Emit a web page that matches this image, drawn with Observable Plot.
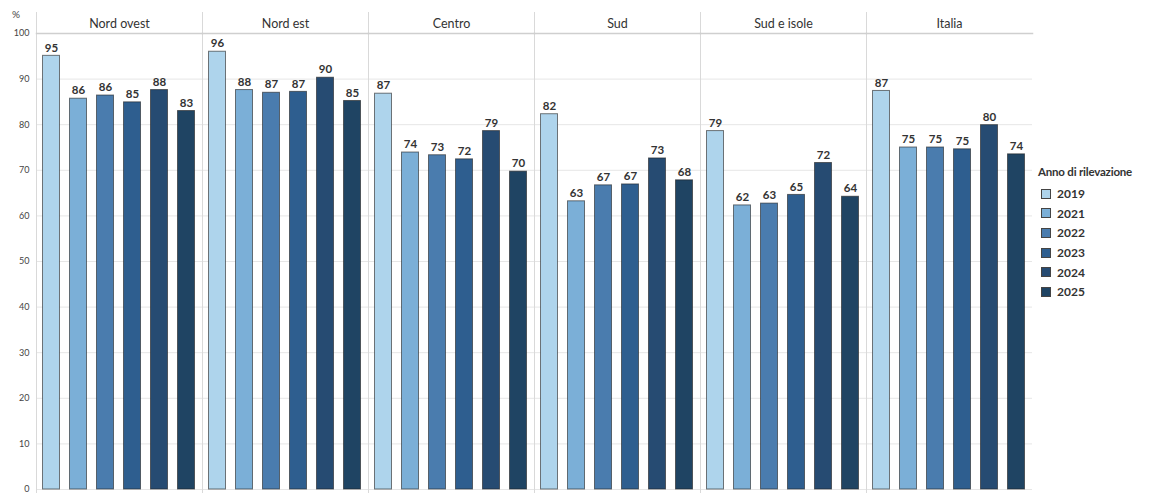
<!DOCTYPE html>
<html>
<head>
<meta charset="utf-8">
<script src="https://cdn.jsdelivr.net/npm/d3@7"></script>
<script src="https://cdn.jsdelivr.net/npm/@observablehq/plot@0.6"></script>
<style>
  body { margin: 0; background: #fff; font-family: Lato, "Open Sans", sans-serif; }
  #wrap { position: relative; width: 1168px; height: 493px; }
  #legend { position: absolute; left: 1038px; top: 165px; font-family: Lato, sans-serif; color: #333; }
  #legend .title { font-weight: bold; font-size: 11.5px; margin-bottom: 6px; letter-spacing: -0.2px; }
  #legend .item { display: flex; align-items: center; height: 19.6px; font-weight: bold; font-size: 12px; }
  #legend .sw { width: 10px; height: 10px; box-sizing: border-box; border: 1px solid #444; margin: 0 6px 0 3px; }
  #pct { position: absolute; left: 12px; top: 8px; font-size: 10px; color: #444; font-family: Lato, sans-serif; }
</style>
</head>
<body>
<div id="wrap"><div id="pct">%</div><div id="legend"></div></div>
<script>
const regions = ["Nord ovest", "Nord est", "Centro", "Sud", "Sud e isole", "Italia"];
const years = ["2019", "2021", "2022", "2023", "2024", "2025"];
const nordOvest = [95.1, 85.7, 86.4, 84.9, 87.6, 83.0];
const nordEst   = [96.0, 87.6, 87.0, 87.2, 90.3, 85.2];
const centro    = [86.8, 73.9, 73.3, 72.4, 78.6, 69.7];
const sud       = [82.3, 63.2, 66.7, 66.9, 72.6, 67.8];
const sudIsole  = [78.6, 62.3, 62.7, 64.6, 71.6, 64.2];
const italia    = [87.4, 75.0, 75.0, 74.6, 79.9, 73.5];
const colors = ["#aed4ec", "#7bafd7", "#4a7cae", "#2e5e8f", "#264b72", "#1f4463"];
const yTicks = [0, 10, 20, 30, 40, 50, 60, 70, 80, 90, 100];

const series = [nordOvest, nordEst, centro, sud, sudIsole, italia];
const data = [];
regions.forEach((r, i) => years.forEach((y, j) => data.push({region: r, year: y, value: series[i][j]})));

const plot = Plot.plot({
  width: 1168,
  height: 493,
  marginLeft: 35,
  marginRight: 135,
  marginTop: 33,
  marginBottom: 4,
  style: {fontFamily: "Lato, sans-serif", color: "#333", background: "#fff"},
  fx: {domain: regions, padding: 0, label: null, axis: null},
  x: {domain: years, paddingInner: 0.32, paddingOuter: 0.13, axis: null},
  y: {domain: [0, 100], label: null, axis: null},
  color: {domain: years, range: colors},
  marks: [
    Plot.gridY(yTicks, {stroke: "#e6e6e6", strokeOpacity: 1}),
    Plot.axisY(yTicks, {tickSize: 0, tickPadding: 7, fontSize: 9, fill: "#444", label: null}),
    Plot.frame({anchor: "left", stroke: "#d9d9d9", strokeOpacity: 1, insetTop: -21, insetBottom: -4}),
    Plot.frame({anchor: "top", stroke: "#cfcfcf", strokeOpacity: 1, strokeWidth: 1.5}),
    Plot.axisFx({anchor: "top", tickSize: 0, tickPadding: 6, fontSize: 12.5, fill: "#333", label: null}),
    Plot.barY(data, {fx: "region", x: "year", y: "value", fill: "year", stroke: "#222", strokeOpacity: 0.6, strokeWidth: 1, insetLeft: 0.5, insetRight: 0.5}),
    Plot.text(data, {fx: "region", x: "year", y: "value", text: d => String(Math.round(d.value)), dy: -8, fontWeight: "bold", fontSize: 11.5, fill: "#333"})
  ]
});
document.getElementById("wrap").appendChild(plot);
plot.style.position = "absolute";
plot.style.left = "0";
plot.style.top = "0";
document.getElementById("pct").style.zIndex = 2;
const legend = document.getElementById("legend");
legend.style.zIndex = 2;
legend.innerHTML = '<div class="title">Anno di rilevazione</div>' +
  years.map((y, i) => `<div class="item"><span class="sw" style="background:${colors[i]}"></span>${y}</div>`).join("");
</script>
</body>
</html>
